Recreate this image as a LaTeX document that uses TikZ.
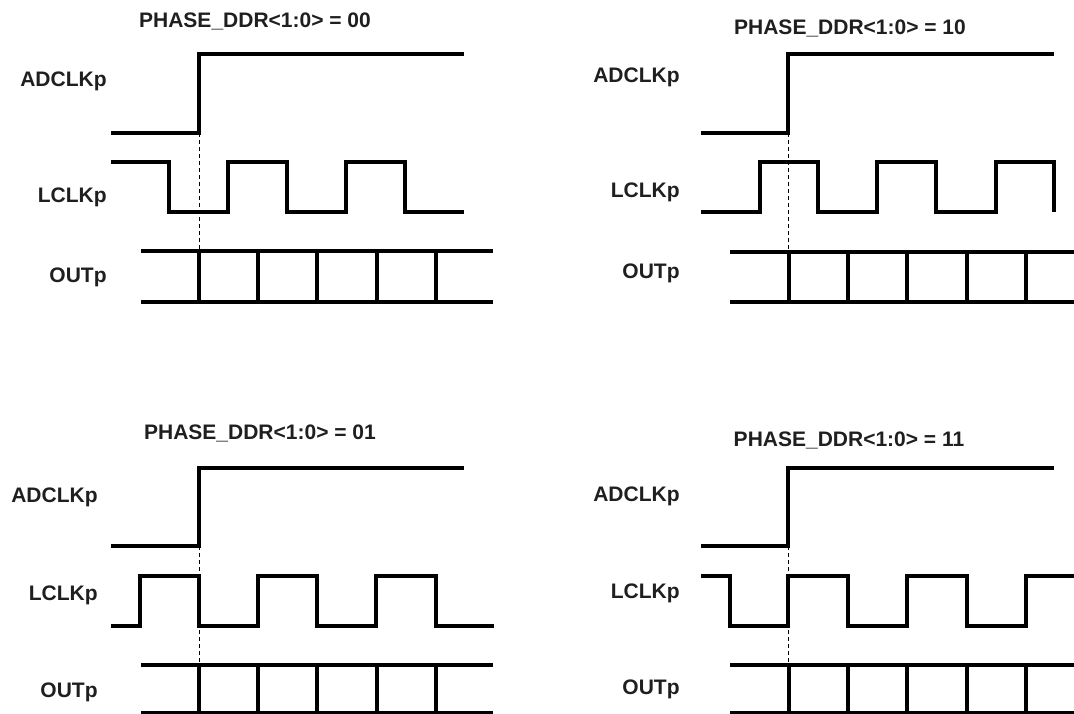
\documentclass[tikz,border=0pt]{standalone}
\usepackage{fontspec}
\setmainfont{Liberation Sans}
\begin{document}
\begin{tikzpicture}[x=0.5pt,y=-0.5pt,
  lbl/.style={anchor=east,inner sep=0pt,font=\fontsize{10.5}{12}\selectfont\bfseries,text=black!88},
  ttl/.style={inner sep=0pt,font=\fontsize{10.5}{12}\selectfont\bfseries,text=black!88},
  adc/.style={line width=1.6pt},
  lclk/.style={line width=2pt},
  bus/.style={line width=2pt},
  tick/.style={line width=1.9pt},
  mark line/.style={line width=0.5pt,dash pattern=on 2pt off 1.5pt}]
\useasboundingbox (0,0) rectangle (1074,713);
\node[ttl] (t00) at (255,21) {PHASE\_DDR<1:0> = 00};
\node[lbl] (a00) at (107,81) {ADCLKp};
\node[lbl] (l00) at (107,197) {LCLKp};
\node[lbl] (o00) at (107,277) {OUTp};
\draw[adc] (111,133) -- (199,133) -- (199,54) -- (464,54);
\draw[lclk] (111,162) -| (169,212) -| (228,162) -| (287,212) -| (346,162) -| (405,212) -- (464,212);
\draw[bus] (141,251) -- (493,251) (141,302) -- (493,302);
\foreach \x in {199,258,317,377,436} \draw[tick] (\x,251) -- (\x,302);
\draw[mark line] (199,133) -- (199,251);
\node[ttl] (t10) at (850,28) {PHASE\_DDR<1:0> = 10};
\node[lbl] (a10) at (680,77) {ADCLKp};
\node[lbl] (l10) at (680,192) {LCLKp};
\node[lbl] (o10) at (680,273) {OUTp};
\draw[adc] (701,133) -- (788,133) -- (788,54) -- (1054,54);
\draw[lclk] (701,212) -| (760,162) -| (818,212) -| (877,162) -| (936,212) -| (996,162) -| (1054,212);
\draw[bus] (730,252) -- (1074,252) (730,302) -- (1074,302);
\foreach \x in {789,848,907,967,1026} \draw[tick] (\x,252) -- (\x,302);
\draw[mark line] (788,133) -- (788,252);
\node[ttl] (t01) at (260,433) {PHASE\_DDR<1:0> = 01};
\node[lbl] (a01) at (98,497) {ADCLKp};
\node[lbl] (l01) at (98,595) {LCLKp};
\node[lbl] (o01) at (98,692) {OUTp};
\draw[adc] (111,546) -- (199,546) -- (199,468) -- (464,468);
\draw[lclk] (111,626) -| (140,576) -| (199,626) -| (258,576) -| (317,626) -| (376,576) -| (436,626) -- (494,626);
\draw[bus] (141,665) -- (493,665) (141,713) -- (493,713);
\foreach \x in {199,258,317,377,436} \draw[tick] (\x,665) -- (\x,713);
\draw[mark line] (199,546) -- (199,665);
\node[ttl] (t11) at (849,440) {PHASE\_DDR<1:0> = 11};
\node[lbl] (a11) at (680,496) {ADCLKp};
\node[lbl] (l11) at (680,593) {LCLKp};
\node[lbl] (o11) at (680,689) {OUTp};
\draw[adc] (701,546) -- (788,546) -- (788,468) -- (1054,468);
\draw[lclk] (701,576) -| (730,626) -| (788,576) -| (848,626) -| (907,576) -| (967,626) -| (1026,576) -- (1074,576);
\draw[bus] (730,665) -- (1074,665) (730,713) -- (1074,713);
\foreach \x in {789,848,907,967,1026} \draw[tick] (\x,665) -- (\x,713);
\draw[mark line] (788,546) -- (788,665);
\end{tikzpicture}
\end{document}
